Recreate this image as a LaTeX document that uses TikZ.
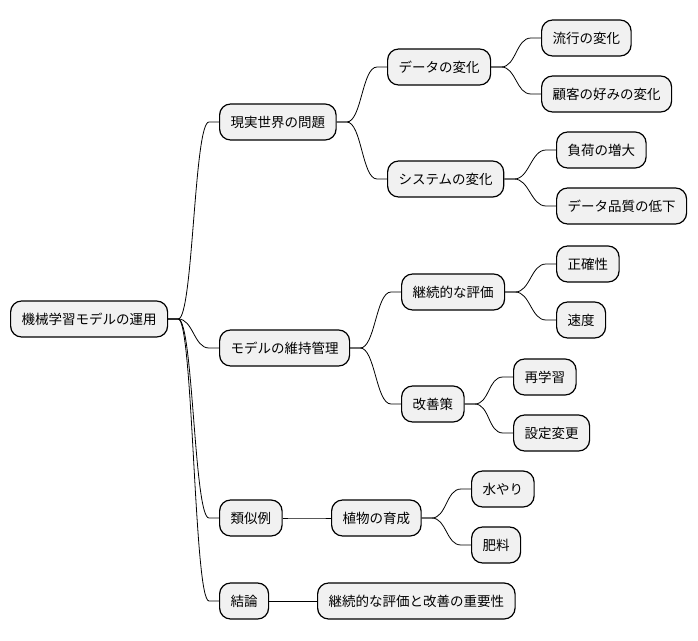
\documentclass[tikz,border=0pt]{standalone}
\usepackage{fontspec}
\setmainfont{Noto Sans CJK JP}
\usepackage{tikz}
\usetikzlibrary{calc}
\definecolor{mmfill}{HTML}{F1F1F1}
\tikzset{
	mmnode/.style={draw=black, fill=mmfill, line width=1.2pt, rounded corners=11pt,
		anchor=west, minimum height=36pt, inner xsep=11pt, inner ysep=0pt,
		font=\fontsize{13.5}{16}\selectfont},
	mmline/.style={draw=black, line width=0.8pt}
}
\newcommand{\mmbranch}[2]{\draw[mmline] (#1.east) -- ++(10,0) .. controls +(15,0) and +(-15,0) .. ($(#2.west)+(-10,0)$) -- (#2.west);}
\begin{document}
\begin{tikzpicture}[x=1pt,y=-1pt]
			\useasboundingbox (0,0) rectangle (698,640);
			% root
			\node[mmnode] (root) at (10,319) {機械学習モデルの運用};
			% first level
			\node[mmnode] (real) at (219,122) {現実世界の問題};
			\node[mmnode] (maint) at (219,348) {モデルの維持管理};
			\node[mmnode] (simil) at (219,518) {類似例};
			\node[mmnode] (concl) at (219,601) {結論};
			% second level
			\node[mmnode] (data) at (387,67) {データの変化};
			\node[mmnode] (sys) at (387,179) {システムの変化};
			\node[mmnode] (eval) at (401,292) {継続的な評価};
			\node[mmnode] (impr) at (401,404) {改善策};
			\node[mmnode] (plant) at (331,518) {植物の育成};
			\node[mmnode] (imp) at (317,601) {継続的な評価と改善の重要性};
			% third level
			\node[mmnode] (trend) at (541,38) {流行の変化};
			\node[mmnode] (pref) at (541,94) {顧客の好みの変化};
			\node[mmnode] (load) at (556,150) {負荷の増大};
			\node[mmnode] (qual) at (556,206) {データ品質の低下};
			\node[mmnode] (acc) at (556,264) {正確性};
			\node[mmnode] (speed) at (556,320) {速度};
			\node[mmnode] (retr) at (513,377) {再学習};
			\node[mmnode] (conf) at (513,433) {設定変更};
			\node[mmnode] (water) at (471,489) {水やり};
			\node[mmnode] (fert) at (471,545) {肥料};
			% branches
			\mmbranch{root}{real}
			\mmbranch{root}{maint}
			\mmbranch{root}{simil}
			\mmbranch{root}{concl}
			\mmbranch{real}{data}
			\mmbranch{real}{sys}
			\mmbranch{data}{trend}
			\mmbranch{data}{pref}
			\mmbranch{sys}{load}
			\mmbranch{sys}{qual}
			\mmbranch{maint}{eval}
			\mmbranch{maint}{impr}
			\mmbranch{eval}{acc}
			\mmbranch{eval}{speed}
			\mmbranch{impr}{retr}
			\mmbranch{impr}{conf}
			\mmbranch{simil}{plant}
			\mmbranch{plant}{water}
			\mmbranch{plant}{fert}
			\mmbranch{concl}{imp}
\end{tikzpicture}
\end{document}
